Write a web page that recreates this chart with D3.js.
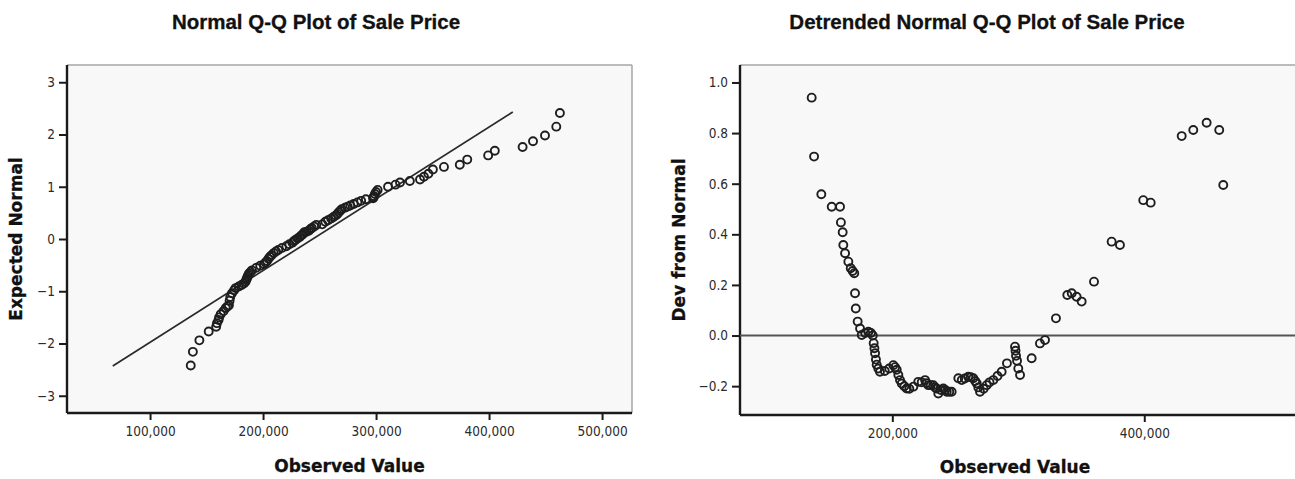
<!DOCTYPE html>
<html>
<head>
<meta charset="utf-8">
<script src="https://cdn.jsdelivr.net/npm/d3@7"></script>
<style>
  html, body { margin: 0; padding: 0; background: #ffffff; }
  svg { display: block; }
</style>
</head>
<body>
<svg id="chart" width="1295" height="479"></svg>
<script>
// Observed sale prices, sorted ascending
const salePrice = [
  136000, 137900, 143650, 151900, 158500, 159200, 160600, 161100, 162500, 165100,
  167000, 168500, 169800, 170400, 171000, 172500, 174400, 175700, 178500, 181000,
  183000, 184500, 185200, 185800, 186300, 187000, 187600, 188900, 190200, 194000,
  197500, 200800, 202200, 203500, 204800, 206100, 207500, 209500, 211400, 213500,
  216700, 220600, 223300, 226000, 227300, 228600, 230500, 232500, 234000, 235200,
  236500, 238500, 240500, 242000, 243200, 245200, 247100, 252400, 255100, 257500,
  260300, 262300, 264300, 265800, 267000, 268300, 269600, 272500, 274900, 277200,
  280200, 283500, 286800, 291000, 297400, 297800, 298200, 299000, 300000, 301400,
  310600, 317200, 321200, 329900, 338900, 342400, 346300, 350300, 360100, 374100,
  380700, 399200, 405100, 429700, 438900, 449500, 459500, 462700
];

// Expected normal score for each observed price
const expectedNormal = [
  -2.42, -2.16, -1.94, -1.77, -1.68, -1.61, -1.55, -1.50, -1.44, -1.38,
  -1.32, -1.29, -1.27, -1.18, -1.11, -1.04, -0.98, -0.94, -0.91, -0.88,
  -0.85, -0.82, -0.78, -0.75, -0.72, -0.69, -0.66, -0.63, -0.60, -0.55,
  -0.51, -0.48, -0.45, -0.42, -0.38, -0.34, -0.31, -0.27, -0.24, -0.21,
  -0.17, -0.14, -0.10, -0.07, -0.04, -0.02, 0.01, 0.04, 0.07, 0.09,
  0.13, 0.14, 0.16, 0.19, 0.21, 0.24, 0.27, 0.28, 0.33, 0.36,
  0.39, 0.42, 0.45, 0.48, 0.51, 0.54, 0.57, 0.60, 0.62, 0.64,
  0.67, 0.70, 0.73, 0.76, 0.78, 0.80, 0.82, 0.86, 0.90, 0.94,
  1.00, 1.04, 1.08, 1.11, 1.14, 1.19, 1.25, 1.33, 1.38, 1.42,
  1.52, 1.60, 1.69, 1.76, 1.87, 1.98, 2.15, 2.41
];

// Deviation of each standardized price from its expected normal score
const devFromNormal = [
  0.940, 0.707, 0.558, 0.509, 0.509, 0.447, 0.408, 0.358, 0.325, 0.292,
  0.266, 0.255, 0.246, 0.167, 0.107, 0.055, 0.028, 0.002, 0.010, 0.015,
  0.010, 0.000, -0.030, -0.050, -0.070, -0.095, -0.115, -0.130, -0.143, -0.140,
  -0.130, -0.117, -0.125, -0.135, -0.156, -0.176, -0.190, -0.200, -0.209, -0.210,
  -0.202, -0.183, -0.185, -0.176, -0.188, -0.196, -0.196, -0.196, -0.205, -0.209,
  -0.229, -0.215, -0.209, -0.215, -0.222, -0.222, -0.222, -0.169, -0.176, -0.170,
  -0.163, -0.165, -0.169, -0.180, -0.189, -0.205, -0.222, -0.210, -0.196, -0.185,
  -0.176, -0.160, -0.143, -0.110, -0.044, -0.060, -0.080, -0.100, -0.130, -0.156,
  -0.090, -0.031, -0.018, 0.068, 0.160, 0.167, 0.153, 0.134, 0.213, 0.371,
  0.358, 0.535, 0.525, 0.788, 0.812, 0.841, 0.812, 0.595
];

// Fitted normal line end points (observed value, expected normal)
const refLineObserved = [67000, 421000];
const refLineExpected = [-2.43, 2.43];

// Axis tick values
const qqXTicks = [100000, 200000, 300000, 400000, 500000];
const qqYTicks = [-3, -2, -1, 0, 1, 2, 3];
const dtXTicks = [200000, 400000];
const dtYTicks = [-0.2, 0.0, 0.2, 0.4, 0.6, 0.8, 1.0];

const titles = ["Normal Q-Q Plot of Sale Price", "Detrended Normal Q-Q Plot of Sale Price"];
const xTitle = "Observed Value";
const yTitles = ["Expected Normal", "Dev from Normal"];

const svg = d3.select("#chart");
const fmtK = d3.format(",");
const tickFont = "'DejaVu Sans Condensed', 'DejaVu Sans', sans-serif";
const labelFont = "'DejaVu Sans', sans-serif";
const titleFont = "'Liberation Sans', Arial, sans-serif";

function drawPanel(cfg) {
  const { x, y, left, right, top, bottom } = cfg;
  const g = svg.append("g");

  // plot background
  g.append("rect")
    .attr("x", left).attr("y", top)
    .attr("width", right - left).attr("height", bottom - top)
    .attr("fill", "#f8f8f8");

  // light top / right frame
  g.append("line").attr("x1", left).attr("x2", right).attr("y1", top).attr("y2", top)
    .attr("stroke", "#a9a4a4").attr("stroke-width", 1.5);
  g.append("line").attr("x1", right).attr("x2", right).attr("y1", top).attr("y2", bottom)
    .attr("stroke", "#a9a4a4").attr("stroke-width", 1.5);

  // axes
  const xAxis = d3.axisBottom(x).tickValues(cfg.xTicks).tickFormat(fmtK)
    .tickSizeOuter(0).tickSizeInner(7).tickPadding(6);
  const yAxis = d3.axisLeft(y).tickValues(cfg.yTicks).tickFormat(cfg.yFormat)
    .tickSizeOuter(0).tickSizeInner(8).tickPadding(4);

  const gx = g.append("g").attr("transform", `translate(0,${bottom})`).call(xAxis);
  const gy = g.append("g").attr("transform", `translate(${left},0)`).call(yAxis);
  gx.select(".domain").attr("d", `M${left},0H${right}`);
  gy.select(".domain").attr("d", `M0,${top}V${bottom}`);
  [gx, gy].forEach(a => {
    a.select(".domain").attr("stroke", "#1a1a1a").attr("stroke-width", 2.4);
    a.selectAll(".tick line").attr("stroke", "#1a1a1a").attr("stroke-width", 2);
    a.selectAll(".tick text")
      .attr("fill", "#2a2a2a")
      .style("font-family", tickFont)
      .style("font-size", "13.5px");
  });

  return g;
}

// ---------- Normal Q-Q plot ----------
const L = { left: 67, right: 632, top: 65, bottom: 413 };
const qqX = d3.scaleLinear().domain([26500, 526500]).range([L.left, L.right]);
const qqY = d3.scaleLinear().domain([-3.33, 3.33]).range([L.bottom, L.top]);

const gL = drawPanel({
  x: qqX, y: qqY, ...L,
  xTicks: qqXTicks, yTicks: qqYTicks, yFormat: d3.format("d")
});

gL.append("line")
  .attr("x1", qqX(refLineObserved[0])).attr("y1", qqY(refLineExpected[0]))
  .attr("x2", qqX(refLineObserved[1])).attr("y2", qqY(refLineExpected[1]))
  .attr("stroke", "#2a2a2a").attr("stroke-width", 1.7);

gL.append("g").selectAll("circle")
  .data(salePrice.map((v, i) => ({ v, e: expectedNormal[i] })))
  .join("circle")
  .attr("cx", d => qqX(d.v)).attr("cy", d => qqY(d.e))
  .attr("r", 4).attr("fill", "none")
  .attr("stroke", "#1e1e1e").attr("stroke-width", 1.9);

// ---------- Detrended Normal Q-Q plot ----------
const R = { left: 740, right: 1302, top: 65, bottom: 415 };
const dtX = d3.scaleLinear().domain([79100, 525200]).range([R.left, R.right]);
const dtY = d3.scaleLinear().domain([-0.314, 1.069]).range([R.bottom, R.top]);

const gR = drawPanel({
  x: dtX, y: dtY, ...R,
  xTicks: dtXTicks, yTicks: dtYTicks, yFormat: d3.format(".1f")
});

gR.append("line")
  .attr("x1", R.left).attr("x2", R.right)
  .attr("y1", dtY(0)).attr("y2", dtY(0))
  .attr("stroke", "#555").attr("stroke-width", 2);

gR.append("g").selectAll("circle")
  .data(salePrice.map((v, i) => ({ v, d: devFromNormal[i] })))
  .join("circle")
  .attr("cx", d => dtX(d.v)).attr("cy", d => dtY(d.d))
  .attr("r", 4).attr("fill", "none")
  .attr("stroke", "#1e1e1e").attr("stroke-width", 1.9);

// ---------- Titles and axis labels ----------
[[titles[0], 316], [titles[1], 987]].forEach(([t, cx]) => {
  svg.append("text").attr("x", cx).attr("y", 29)
    .attr("text-anchor", "middle")
    .style("font-family", titleFont).style("font-weight", "bold")
    .style("font-size", "20.5px").attr("fill", "#111")
    .attr("stroke", "#111").attr("stroke-width", 0.3)
    .text(t);
});

[[(L.left + L.right) / 2, 472], [1015, 473]].forEach(([cx, cy]) => {
  svg.append("text").attr("x", cx).attr("y", cy)
    .attr("text-anchor", "middle")
    .style("font-family", labelFont).style("font-weight", "bold")
    .style("font-size", "17px").attr("fill", "#111")
    .attr("stroke", "#111").attr("stroke-width", 0.3)
    .text(xTitle);
});

[[22, (L.top + L.bottom) / 2, yTitles[0]], [685, (R.top + R.bottom) / 2, yTitles[1]]].forEach(([cx, cy, t]) => {
  svg.append("text")
    .attr("transform", `translate(${cx},${cy}) rotate(-90)`)
    .attr("text-anchor", "middle")
    .style("font-family", labelFont).style("font-weight", "bold")
    .style("font-size", "17px").attr("fill", "#111")
    .attr("stroke", "#111").attr("stroke-width", 0.3)
    .text(t);
});
</script>
</body>
</html>
